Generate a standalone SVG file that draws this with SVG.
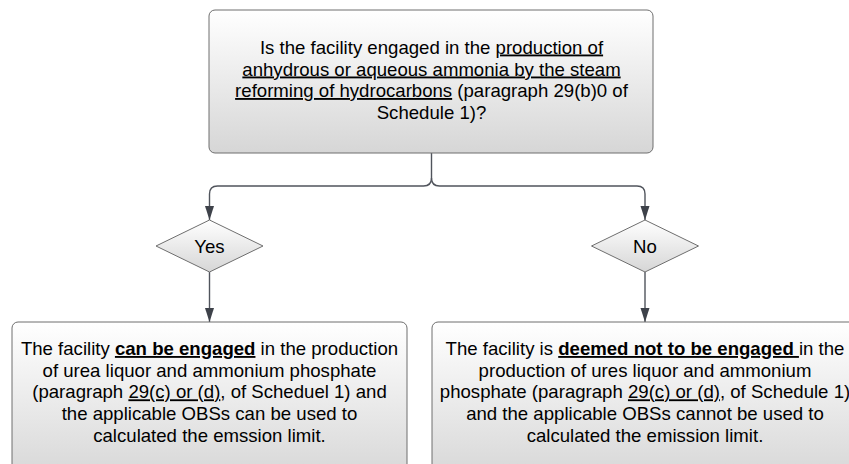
<svg xmlns="http://www.w3.org/2000/svg" width="849" height="464" viewBox="0 0 849 464">
<style>
.box{stroke:#6e6e6e;stroke-width:1;fill:url(#g)}
.t{font-family:"Liberation Sans",Arial,sans-serif;font-size:18.6px;fill:#000;text-anchor:middle;text-decoration-skip-ink:none;text-decoration-skip:none}
.u{text-decoration:underline;text-decoration-skip-ink:none}
.b{font-weight:bold;text-decoration:underline;text-decoration-skip-ink:none}
.c{fill:none;stroke:#50545c;stroke-width:1.4}
</style>
<defs>
<linearGradient id="g" x1="0" y1="0" x2="0" y2="1">
<stop offset="0" stop-color="#ffffff"/>
<stop offset="1" stop-color="#d6d6d6"/>
</linearGradient>
<marker id="a" viewBox="0 0 14 10" refX="14" refY="5" markerWidth="14" markerHeight="10" markerUnits="userSpaceOnUse" orient="auto">
<path d="M0 0.5 L14 5 L0 9.5 Z" fill="#3e424a"/>
</marker>
</defs>
<g id="connectors">
<path class="c" d="M431.5 153 V178 Q431.5 186 423.5 186 H217.5 Q209.5 186 209.5 194 V220" marker-end="url(#a)"/>
<path class="c" d="M431.5 178 Q431.5 186 439.5 186 H637 Q645 186 645 194 V220" marker-end="url(#a)"/>
<path class="c" d="M209.5 272 V322" marker-end="url(#a)"/>
<path class="c" d="M645 272 V322" marker-end="url(#a)"/>
</g>
<g id="question">
<rect class="box" x="209" y="10" width="444" height="143" rx="6"/>
<text class="t" x="431.5" y="53.5">Is the facility engaged in the <tspan class="u">production of</tspan></text>
<text class="t" x="431.5" y="75.5"><tspan class="u">anhydrous or aqueous ammonia by the steam</tspan></text>
<text class="t" x="431.5" y="97"><tspan class="u">reforming of hydrocarbons</tspan> (paragraph 29(b)0 of</text>
<text class="t" x="431.5" y="118.5">Schedule 1)?</text>
</g>
<g id="yes">
<path class="box" d="M209.5 220 L263 246 L209.5 272 L156 246 Z" stroke-linejoin="round"/>
<text class="t" x="209.5" y="252.5">Yes</text>
</g>
<g id="no">
<path class="box" d="M645 220 L698.5 246 L645 272 L591.5 246 Z" stroke-linejoin="round"/>
<text class="t" x="645" y="252.5">No</text>
</g>
<g id="yes-result">
<rect class="box" x="12" y="322" width="395" height="160" rx="6"/>
<text class="t" x="209.5" y="355">The facility <tspan class="b">can be engaged</tspan> in the production</text>
<text class="t" x="209.5" y="376.7">of urea liquor and ammonium phosphate</text>
<text class="t" x="209.5" y="398.3">(paragraph <tspan class="u">29(c) or (d)</tspan>, of Scheduel 1) and</text>
<text class="t" x="209.5" y="420">the applicable OBSs can be used to</text>
<text class="t" x="209.5" y="441.7">calculated the emssion limit.</text>
</g>
<g id="no-result">
<rect class="box" x="432" y="322" width="426" height="160" rx="6"/>
<text class="t" x="645" y="355">The facility is <tspan class="b">deemed not to be engaged </tspan>in the</text>
<text class="t" x="645" y="376.7">production of ures liquor and ammonium</text>
<text class="t" x="645" y="398.3">phosphate (paragraph <tspan class="u">29(c) or (d)</tspan>, of Schedule 1)</text>
<text class="t" x="645" y="420">and the applicable OBSs cannot be used to</text>
<text class="t" x="645" y="441.7">calculated the emission limit.</text>
</g>
</svg>
